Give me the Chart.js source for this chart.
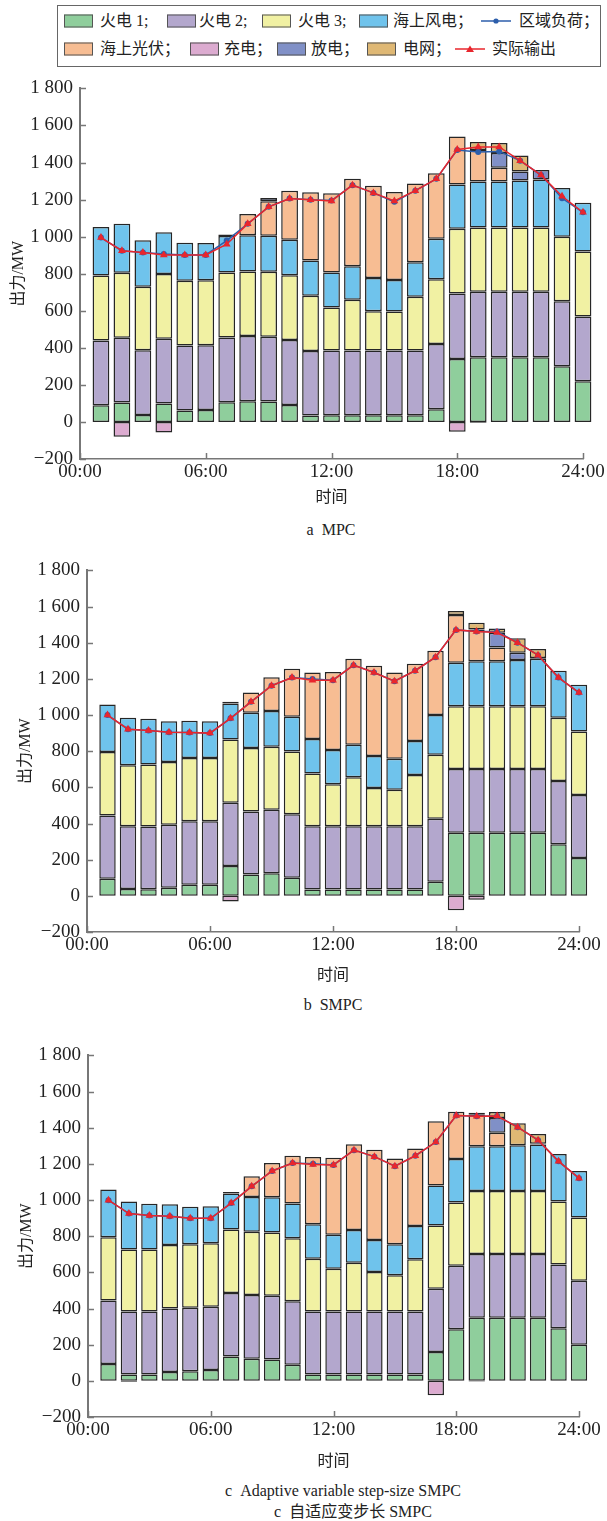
<!DOCTYPE html>
<html>
<head>
<meta charset="utf-8">
<script src="https://cdn.jsdelivr.net/npm/chart.js@4.4.1/dist/chart.umd.min.js"></script>
<style>
    body { margin: 0; background: #fff; }
    #page { position: relative; width: 607px; height: 1521px; overflow: hidden;
            font-family: "Liberation Serif", "Noto Sans CJK SC", serif; color: #222; }
    canvas { position: absolute; left: 0; }
    .legend-box { position: absolute; left: 57px; top: 5px; width: 544px; height: 62px;
                  border: 1px solid #666; box-sizing: border-box; }
    .lg-text { position: absolute; font-size: 16px; line-height: 18px; white-space: nowrap; transform: translateY(-50%); }
    .lg-swatch { position: absolute; width: 29px; height: 13px; border: 1px solid #555;
                 box-sizing: border-box; transform: translateY(-50%); }
    .lg-line { position: absolute; transform: translateY(-50%); }
    .caption { position: absolute; font-size: 16px; white-space: nowrap; transform: translate(-50%, -50%); }
</style>
</head>
<body>
<div id="page">
    <div class="legend-box"></div>
    <div id="legend"></div>
    <canvas id="chartA" width="607" height="440" style="top:70px"></canvas>
    <div class="caption" style="left:331px;top:530px">a&nbsp;&nbsp;MPC</div>
    <canvas id="chartB" width="607" height="436" style="top:552px"></canvas>
    <div class="caption" style="left:333px;top:1005px">b&nbsp;&nbsp;SMPC</div>
    <canvas id="chartC" width="607" height="437" style="top:1037px"></canvas>
    <div class="caption" style="left:343px;top:1491px">c&nbsp;&nbsp;Adaptive variable step-size SMPC</div>
    <div class="caption" style="left:353px;top:1510px">c&nbsp;&nbsp;自适应变步长 SMPC</div>
</div>

<script>
// Hours (bar positions on the time axis)
const hours = [1, 2, 3, 4, 5, 6, 7, 8, 9, 10, 11, 12, 13, 14, 15, 16, 17, 18, 19, 20, 21, 22, 23, 24];
const xTicks = [0, 6, 12, 18, 24];

// a MPC
const aFire1 = [90, 105, 37, 99, 62, 64, 106, 112, 110, 92, 35, 36, 36, 36, 36, 36, 69, 340, 349, 349, 349, 349, 300, 220];
const aFire2 = [350, 350, 350, 350, 350, 350, 350, 352, 350, 350, 348, 349, 349, 349, 349, 349, 351, 353, 353, 353, 353, 353, 351, 349];
const aFire3 = [350, 350, 342, 350, 350, 350, 350, 348, 350, 350, 298, 233, 275, 213, 211, 291, 350, 350, 348, 348, 348, 348, 349, 351];
const aWind = [262, 264, 251, 225, 205, 202, 198, 195, 195, 191, 190, 188, 180, 179, 170, 186, 219, 239, 248, 248, 253, 259, 262, 263];
const aPv = [0, 0, 0, 0, 0, 0, 0, 115, 186, 264, 368, 428, 472, 498, 475, 425, 353, 259, 170, 74, 0, 0, 0, 0];
const aCharge = [0, -80, 0, -57, 0, 0, 0, 0, 0, 0, 0, 0, 0, 0, 0, 0, 0, -53, -5, 0, 0, 0, 0, 0];
const aDischarge = [0, 0, 0, 0, 0, 0, 8, 0, 17, 0, 0, 0, 0, 0, 0, 0, 0, 0, 0, 80, 48, 51, 0, 0];
const aGrid = [0, 0, 0, 0, 0, 0, 0, 0, 0, 0, 0, 0, 0, 0, 0, 0, 0, 0, 43, 53, 87, 0, 0, 0];
const aLoad = [995, 924, 915, 906, 901, 901, 979, 1069, 1161, 1206, 1199, 1195, 1278, 1236, 1188, 1248, 1312, 1468, 1457, 1460, 1410, 1332, 1207, 1131];
const aOutput = [995, 924, 915, 901, 901, 901, 959, 1069, 1161, 1206, 1199, 1193, 1278, 1236, 1193, 1248, 1312, 1470, 1484, 1484, 1410, 1332, 1218, 1131];

// b SMPC
const bFire1 = [95, 38, 36, 45, 62, 62, 165, 118, 125, 100, 35, 35, 35, 35, 35, 35, 78, 349, 349, 349, 349, 349, 285, 209];
const bFire2 = [349, 347, 348, 348, 351, 351, 350, 349, 351, 351, 350, 350, 350, 350, 350, 350, 349, 353, 353, 353, 353, 353, 350, 349];
const bFire3 = [351, 337, 343, 347, 349, 349, 350, 351, 349, 347, 291, 232, 271, 211, 202, 284, 353, 347, 347, 347, 347, 347, 350, 351];
const bWind = [263, 263, 253, 225, 207, 203, 199, 195, 197, 193, 191, 190, 180, 177, 171, 187, 220, 240, 249, 249, 255, 262, 260, 258];
const bPv = [0, 0, 0, 0, 0, 0, 0, 112, 187, 265, 368, 431, 475, 500, 477, 428, 355, 264, 175, 75, 0, 0, 0, 0];
const bCharge = [0, 0, 0, 0, 0, 0, -31, 0, 0, 0, 0, 0, 0, 0, 0, 0, 0, -80, -22, 0, 0, 0, 0, 0];
const bDischarge = [0, 0, 0, 0, 0, 0, 9, 0, 0, 0, 0, 0, 0, 0, 0, 0, 0, 0, 0, 82, 40, 5, 0, 0];
const bGrid = [0, 0, 0, 0, 0, 0, 0, 0, 0, 0, 0, 0, 0, 0, 0, 0, 0, 23, 38, 23, 81, 49, 0, 0];
const bLoad = [1000, 922, 915, 905, 904, 900, 982, 1073, 1162, 1207, 1200, 1193, 1276, 1235, 1187, 1245, 1320, 1471, 1462, 1462, 1400, 1331, 1207, 1124];
const bOutput = [1000, 922, 915, 905, 904, 900, 982, 1073, 1162, 1207, 1193, 1193, 1276, 1235, 1187, 1245, 1320, 1471, 1462, 1456, 1400, 1331, 1207, 1124];

// c Adaptive variable step-size SMPC
const cFire1 = [93, 35, 35, 49, 53, 60, 135, 122, 118, 89, 35, 35, 35, 35, 35, 35, 160, 286, 349, 349, 349, 349, 291, 200];
const cFire2 = [351, 349, 349, 351, 351, 350, 351, 353, 353, 351, 349, 349, 349, 349, 349, 349, 350, 351, 352, 352, 352, 352, 352, 353];
const cFire3 = [350, 342, 342, 352, 351, 351, 351, 350, 350, 348, 291, 236, 269, 218, 200, 288, 349, 350, 349, 349, 349, 349, 349, 350];
const cWind = [264, 266, 253, 225, 208, 204, 199, 192, 195, 193, 191, 188, 181, 177, 171, 185, 222, 240, 248, 248, 253, 257, 262, 258];
const cPv = [0, 0, 0, 0, 0, 0, 0, 115, 189, 264, 372, 426, 475, 499, 475, 428, 355, 262, 174, 74, 0, 0, 0, 0];
const cCharge = [0, -5, 0, 0, 0, 0, 0, 0, 0, 0, 0, 0, 0, 0, 0, 0, -80, 0, -3, 0, 0, 0, 0, 0];
const cDischarge = [0, 0, 0, 0, 0, 0, 9, 0, 0, 0, 0, 0, 0, 0, 0, 0, 0, 0, 0, 82, 0, 5, 0, 0];
const cGrid = [0, 0, 0, 0, 0, 0, 0, 0, 0, 0, 0, 0, 0, 0, 0, 0, 0, 0, 11, 33, 122, 53, 0, 0];
const cLoad = [999, 925, 914, 910, 899, 899, 983, 1076, 1161, 1205, 1201, 1194, 1276, 1240, 1187, 1245, 1321, 1467, 1463, 1465, 1403, 1331, 1214, 1121];
const cOutput = [999, 925, 914, 910, 899, 899, 983, 1076, 1161, 1205, 1196, 1194, 1276, 1240, 1187, 1245, 1321, 1467, 1463, 1465, 1403, 1331, 1214, 1121];

// Colours
const colFire1 = '#8fce9c';
const colFire2 = '#b3a7cd';
const colFire3 = '#f1f1a3';
const colWind = '#6fc3ec';
const colPv = '#f7bd93';
const colCharge = '#dcabd0';
const colDischarge = '#8090c7';
const colGrid = '#dfb874';
const colLoad = '#2c5eab';
const colOutput = '#e8262d';
const axisColor = '#777';
const fontFamily = '"Liberation Serif", "Noto Sans CJK SC", serif';

// ---------- HTML legend ----------
const legendItems = [
    // row 1
    { kind: 'box', color: colFire1, text: '火电 1;', sx: 64, tx: 100, y: 21 },
    { kind: 'box', color: colFire2, text: '火电 2;', sx: 167, tx: 199, y: 21 },
    { kind: 'box', color: colFire3, text: '火电 3;', sx: 262, tx: 298, y: 21 },
    { kind: 'box', color: colWind, text: '海上风电；', sx: 359, tx: 393, y: 21 },
    { kind: 'line', color: colLoad, marker: 'circle', text: '区域负荷；', sx: 481, tx: 519, y: 21 },
    // row 2
    { kind: 'box', color: colPv, text: '海上光伏；', sx: 64, tx: 100, y: 49 },
    { kind: 'box', color: colCharge, text: '充电；', sx: 190, tx: 224, y: 49 },
    { kind: 'box', color: colDischarge, text: '放电；', sx: 277, tx: 311, y: 49 },
    { kind: 'box', color: colGrid, text: '电网；', sx: 367, tx: 403, y: 49 },
    { kind: 'line', color: colOutput, marker: 'triangle', text: '实际输出', sx: 455, tx: 492, y: 49 }
];

const legendEl = document.getElementById('legend');
legendItems.forEach(function(item) {
    if (item.kind === 'box') {
        const sw = document.createElement('div');
        sw.className = 'lg-swatch';
        sw.style.left = item.sx + 'px';
        sw.style.top = item.y + 'px';
        sw.style.background = item.color;
        legendEl.appendChild(sw);
    } else {
        const w = 30;
        const mk = item.marker === 'circle'
            ? '<circle cx="15" cy="5" r="2.6" fill="' + item.color + '"/>'
            : '<polygon points="15,1.5 19,8 11,8" fill="' + item.color + '"/>';
        const svg = document.createElement('div');
        svg.className = 'lg-line';
        svg.style.left = item.sx + 'px';
        svg.style.top = item.y + 'px';
        svg.innerHTML = '<svg width="' + w + '" height="10"><line x1="0" y1="5" x2="' + w + '" y2="5" stroke="' +
            item.color + '" stroke-width="1.5"/>' + mk + '</svg>';
        legendEl.appendChild(svg);
    }
    const t = document.createElement('div');
    t.className = 'lg-text';
    t.style.left = item.tx + 'px';
    t.style.top = item.y + 'px';
    t.textContent = item.text;
    legendEl.appendChild(t);
});

// ---------- Charts ----------
function fmtY(v) {
    if (v < 0) return '\u2212' + Math.abs(v);
    if (v >= 1000) return Math.floor(v / 1000) + ' ' + String(v % 1000).padStart(3, '0');
    return String(v);
}

function toPoints(values) {
    return hours.map(function(h, i) { return { x: h, y: values[i] }; });
}

function barSet(label, values, color) {
    return {
        type: 'bar',
        label: label,
        data: toPoints(values),
        backgroundColor: color,
        borderColor: '#262626',
        borderWidth: 1.5,
        borderSkipped: false,
        barPercentage: 0.8,
        categoryPercentage: 1,
        stack: 'power',
        clip: false,
        order: 3
    };
}

function lineSet(label, values, color, style, radius, order) {
    return {
        type: 'line',
        label: label,
        data: toPoints(values),
        borderColor: color,
        backgroundColor: color,
        borderWidth: 1.5,
        pointStyle: style,
        pointRadius: radius,
        pointBorderWidth: 0,
        tension: 0,
        fill: false,
        clip: false,
        order: order
    };
}

// draws the small inward tick marks on both axes
const inwardTicks = {
    id: 'inwardTicks',
    afterDraw(chart) {
        const { ctx, chartArea, scales } = chart;
        ctx.save();
        ctx.strokeStyle = axisColor;
        ctx.lineWidth = 1.5;
        ctx.beginPath();
        scales.y.ticks.forEach(function(t) {
            const py = Math.round(scales.y.getPixelForValue(t.value)) + 0.5;
            ctx.moveTo(chartArea.left, py);
            ctx.lineTo(chartArea.left + 6, py);
        });
        scales.x.ticks.forEach(function(t) {
            const px = Math.round(scales.x.getPixelForValue(t.value)) + 0.5;
            ctx.moveTo(px, chartArea.bottom);
            ctx.lineTo(px, chartArea.bottom - 6);
        });
        ctx.stroke();
        ctx.restore();
    }
};

function makeChart(canvasId, d, g) {
    const canvas = document.getElementById(canvasId);
    const ctx = canvas.getContext('2d');
    return new Chart(ctx, {
        type: 'bar',
        data: {
            datasets: [
                barSet('火电 1', d.fire1, colFire1),
                barSet('火电 2', d.fire2, colFire2),
                barSet('火电 3', d.fire3, colFire3),
                barSet('海上风电', d.wind, colWind),
                barSet('海上光伏', d.pv, colPv),
                barSet('放电', d.discharge, colDischarge),
                barSet('电网', d.grid, colGrid),
                barSet('充电', d.charge, colCharge),
                lineSet('区域负荷', d.load, colLoad, 'circle', 3, 2),
                lineSet('实际输出', d.output, colOutput, 'triangle', 4.5, 1)
            ]
        },
        options: {
            responsive: false,
            maintainAspectRatio: false,
            devicePixelRatio: 1,
            animation: false,
            layout: {
                padding: { top: g.areaTop - g.top, right: 607 - g.axisRight, bottom: 0, left: 0 }
            },
            plugins: {
                legend: { display: false },
                tooltip: { enabled: false }
            },
            scales: {
                x: {
                    type: 'linear',
                    min: 0,
                    max: 24,
                    offset: false,
                    afterBuildTicks: function(scale) {
                        scale.ticks = xTicks.map(function(v) { return { value: v }; });
                    },
                    afterFit: function(scale) {
                        scale.height = g.height - (g.areaBottom - g.top);
                    },
                    grid: { display: false, drawTicks: false, offset: false },
                    border: { display: true, color: axisColor, width: 1.5 },
                    ticks: {
                        padding: 2,
                        color: '#222',
                        font: { family: fontFamily, size: 19 },
                        maxRotation: 0,
                        autoSkip: false,
                        callback: function(v) { return String(v).padStart(2, '0') + ':00'; }
                    },
                    title: {
                        display: true,
                        text: '时间',
                        color: '#222',
                        font: { family: fontFamily, size: 16 },
                        padding: { top: 0, bottom: 3 }
                    }
                },
                y: {
                    min: -200,
                    max: 1800,
                    afterFit: function(scale) {
                        scale.width = g.axisLeft;
                    },
                    grid: { display: false, drawTicks: false },
                    border: { display: true, color: axisColor, width: 2 },
                    ticks: {
                        stepSize: 200,
                        padding: 7,
                        color: '#222',
                        font: { family: fontFamily, size: 19 },
                        callback: function(v) { return fmtY(v); }
                    },
                    title: {
                        display: true,
                        text: '出力/MW',
                        color: '#222',
                        font: { family: fontFamily, size: 16 },
                        padding: { top: g.yTitlePad, bottom: 0 }
                    }
                }
            }
        },
        plugins: [inwardTicks]
    });
}

document.addEventListener('DOMContentLoaded', function() {
    try {
        makeChart('chartA', {
            fire1: aFire1, fire2: aFire2, fire3: aFire3, wind: aWind, pv: aPv,
            charge: aCharge, discharge: aDischarge, grid: aGrid, load: aLoad, output: aOutput
        }, { top: 70, height: 440, axisLeft: 80, axisRight: 583, areaTop: 83, areaBottom: 459, yTitlePad: 9 });

        makeChart('chartB', {
            fire1: bFire1, fire2: bFire2, fire3: bFire3, wind: bWind, pv: bPv,
            charge: bCharge, discharge: bDischarge, grid: bGrid, load: bLoad, output: bOutput
        }, { top: 552, height: 436, axisLeft: 87, axisRight: 579, areaTop: 566, areaBottom: 932, yTitlePad: 16 });

        makeChart('chartC', {
            fire1: cFire1, fire2: cFire2, fire3: cFire3, wind: cWind, pv: cPv,
            charge: cCharge, discharge: cDischarge, grid: cGrid, load: cLoad, output: cOutput
        }, { top: 1037, height: 437, axisLeft: 88, axisRight: 579, areaTop: 1050, areaBottom: 1417, yTitlePad: 17 });
    } catch (error) {
        console.error('Error building charts:', error);
    }
});
</script>
</body>
</html>
